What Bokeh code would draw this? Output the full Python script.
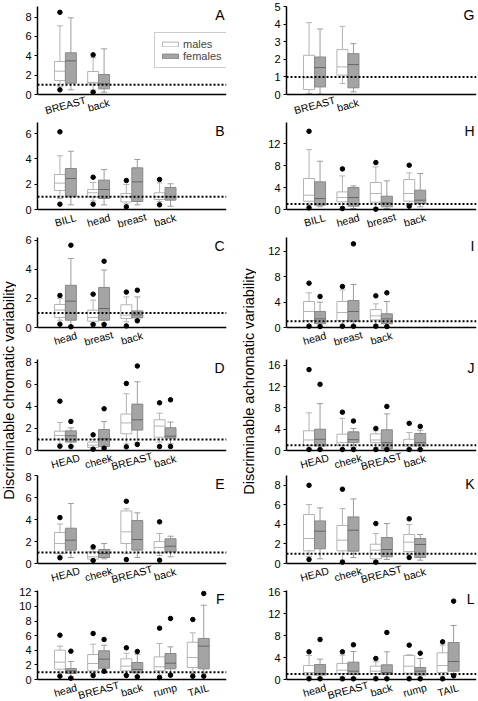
import math
from bokeh.plotting import figure
from bokeh.models import (Range1d, FixedTicker, ColumnDataSource, Span, Label,
                          Legend, LegendItem)
from bokeh.core.properties import value
from bokeh.layouts import row, column
from bokeh.embed import file_html
from bokeh.resources import INLINE

nan = float("nan")

# ---- data: each entry = [whisker_low, q1, median, q3, whisker_high, outlier_low, outlier_high]
A_cats = ["BREAST", "back"]
A_m = [[0.8, 1.45, 2.41, 3.41, 7.1, 0.48, 8.5], [0.45, 1.1, 1.25, 2.38, 3.8, 0.24, 4.1]]
A_f = [[0.48, 1.17, 3.48, 4.31, 7.93, nan, nan], [0.24, 0.59, 1.1, 2.07, 4.72, nan, nan]]
A_ticks = [0, 2, 4, 6, 8]

B_cats = ["BILL", "head", "breast", "back"]
B_m = [[0.87, 1.5, 2.08, 2.76, 4.24, 0.42, 6.13], [0.68, 1.0, 1.32, 1.58, 2.13, 0.42, 2.55],
       [0.45, 0.6, 1.0, 1.26, 1.97, 0.21, 2.29], [0.63, 0.79, 1.0, 1.32, 2.1, 0.37, 2.37]]
B_f = [[0.37, 1.0, 2.45, 3.24, 4.6, nan, nan], [0.37, 0.87, 1.58, 2.32, 3.16, nan, nan],
       [0.37, 0.63, 2.18, 3.29, 3.95, nan, nan], [0.26, 0.74, 1.0, 1.74, 2.03, nan, nan]]
B_ticks = [0, 2, 4, 6]

C_cats = ["head", "breast", "back"]
C_m = [[0.5, 0.69, 1.2, 1.58, 2.0, 0.23, 2.2], [0.3, 0.43, 0.69, 1.19, 1.88, 0.2, 2.29],
       [0.39, 0.62, 0.85, 1.56, 2.1, 0.11, 2.43]]
C_f = [[0.1, 0.5, 1.81, 2.9, 4.74, 0.05, 5.65], [0.27, 0.5, 1.3, 2.75, 3.95, 0.2, 4.55],
       [0.55, 0.66, 0.87, 1.14, 2.1, 0.46, 2.56]]
C_ticks = [0, 2, 4, 6]

D_cats = ["HEAD", "cheek", "BREAST", "back"]
D_m = [[0.6, 1.03, 1.36, 1.75, 2.54, 0.39, 4.47], [0.15, 0.27, 0.48, 0.76, 1.0, 0.12, 1.42],
       [0.6, 1.51, 2.5, 3.3, 5.14, 0.33, 6.07], [0.76, 1.21, 2.21, 2.78, 3.38, 0.36, 4.32]]
D_f = [[0.45, 0.76, 1.33, 1.78, 2.05, 0.36, 2.63], [0.25, 0.36, 1.06, 1.9, 2.63, 0.21, 3.78],
       [0.7, 1.85, 2.78, 4.2, 6.22, 0.55, 7.65], [0.6, 1.12, 1.3, 2.06, 2.57, 0.36, 4.59]]
D_ticks = [0, 2, 4, 6, 8]

E_cats = ["HEAD", "cheek", "BREAST", "back"]
E_m = [[0.7, 0.91, 1.82, 2.83, 3.6, 0.52, 4.19], [0.3, 0.4, 0.61, 1.06, 1.3, 0.27, 1.52],
       [0.9, 1.82, 2.89, 4.8, 5.0, 0.36, 5.68], [0.73, 0.97, 1.46, 2.0, 2.74, 0.3, 3.8]]
E_f = [[0.55, 1.22, 2.13, 3.22, 5.47, nan, nan], [0.43, 0.55, 0.91, 1.28, 1.82, nan, nan],
       [0.55, 1.22, 2.19, 3.92, 4.62, nan, nan], [0.61, 1.06, 1.58, 2.25, 2.49, nan, nan]]
E_ticks = [0, 2, 4, 6, 8]

F_cats = ["head", "BREAST", "back", "rump", "TAIL"]
F_m = [[0.9, 1.42, 2.37, 4.02, 4.57, 0.46, 6.07], [0.8, 1.19, 2.19, 3.42, 4.84, 0.55, 6.3],
       [0.68, 1.19, 1.83, 2.83, 3.6, 0.55, 4.34], [0.6, 1.19, 1.74, 3.1, 4.93, 0.27, 7.03],
       [0.82, 1.64, 3.01, 5.11, 6.39, 0.46, 8.22]]
F_f = [[0.37, 0.82, 1.19, 1.5, 2.47, 0.18, 3.88], [1.45, 1.55, 2.79, 3.93, 4.7, 1.12, 5.48],
       [0.46, 0.91, 1.37, 2.33, 3.47, 0.37, 3.84], [0.82, 1.46, 2.24, 3.56, 4.47, 0.59, 8.36],
       [0.9, 1.46, 4.57, 5.62, 10.18, 0.46, 11.78]]
F_ticks = [0, 2, 4, 6, 8, 10, 12]

G_cats = ["BREAST", "back"]
G_m = [[0.06, 0.28, 0.95, 2.23, 4.08, nan, nan], [0.62, 1.1, 1.57, 2.55, 3.87, nan, nan]]
G_f = [[0.02, 0.43, 1.53, 2.13, 3.72, nan, nan], [0.15, 0.38, 1.7, 2.32, 2.89, nan, nan]]
G_ticks = [0, 1, 2, 3, 4, 5]

H_cats = ["BILL", "head", "breast", "back"]
H_m = [[0.8, 1.52, 2.62, 5.66, 10.95, 0.3, 14.3], [0.5, 1.4, 2.19, 3.22, 6.14, 0.18, 7.42],
       [0.3, 1.34, 2.92, 4.93, 7.78, 0.06, 8.58], [0.9, 1.52, 2.92, 5.47, 6.69, 0.61, 8.09]]
H_f = [[0.5, 0.79, 2.0, 5.05, 8.82, nan, nan], [0.18, 0.6, 2.19, 4.01, 4.32, nan, nan],
       [0.18, 0.49, 1.22, 2.43, 5.23, nan, nan], [0.49, 1.1, 1.7, 3.53, 6.57, nan, nan]]
H_ticks = [0, 4, 8, 12, 16]

I_cats = ["head", "breast", "back"]
I_m = [[0.4, 1.1, 2.52, 4.09, 5.45, 0.2, 6.97], [0.4, 1.1, 2.36, 4.09, 5.92, 0.2, 6.45],
       [0.5, 1.2, 1.83, 2.83, 3.72, 0.2, 4.98]]
I_f = [[0.2, 0.58, 1.36, 2.52, 3.98, 0.15, 4.87], [0.3, 1.0, 2.52, 4.25, 6.76, 0.2, 13.15],
       [0.2, 0.58, 1.36, 2.15, 4.09, 0.15, 5.45]]
I_ticks = [0, 4, 8, 12]

J_cats = ["HEAD", "cheek", "BREAST", "back"]
J_m = [[0.3, 0.96, 1.98, 3.7, 7.07, 0.19, 15.2], [0.3, 0.96, 1.47, 3.06, 6.05, 0.19, 7.2],
       [0.6, 1.47, 1.98, 3.12, 3.7, 0.19, 4.14], [0.35, 0.83, 1.15, 2.1, 3.38, 0.19, 5.1]]
J_f = [[0.3, 0.83, 2.1, 4.0, 8.8, 0.19, 12.43], [0.6, 1.47, 2.04, 3.5, 4.14, 0.19, 5.54],
       [0.25, 0.32, 1.47, 3.89, 6.88, 0.19, 8.28], [0.35, 0.83, 1.47, 3.19, 3.82, 0.19, 4.53]]
J_ticks = [0, 4, 8, 12, 16]

K_cats = ["HEAD", "cheek", "BREAST", "back"]
K_m = [[0.7, 1.29, 2.55, 5.0, 6.02, 0.41, 7.99], [0.35, 1.29, 2.38, 3.88, 5.61, 0.14, 7.59],
       [0.3, 0.48, 1.36, 1.97, 3.06, 0.14, 4.08], [0.9, 1.22, 2.18, 2.96, 3.98, 0.61, 4.56]]
K_f = [[0.48, 1.5, 3.3, 4.35, 5.68, nan, nan], [0.61, 1.26, 3.4, 4.76, 6.6, nan, nan],
       [0.41, 0.68, 1.43, 2.65, 4.08, nan, nan], [0.34, 0.61, 1.94, 2.55, 2.96, nan, nan]]
K_ticks = [0, 2, 4, 6, 8]

L_cats = ["head", "BREAST", "back", "rump", "TAIL"]
L_m = [[0.5, 0.8, 1.28, 2.55, 4.38, 0.12, 5.05], [0.5, 1.1, 1.7, 2.92, 4.44, 0.12, 5.05],
       [0.5, 1.1, 1.52, 2.43, 3.22, 0.12, 3.83], [0.5, 1.16, 2.43, 4.38, 4.5, 0.12, 6.27],
       [0.6, 1.28, 2.55, 4.87, 6.27, 0.12, 6.87]]
L_f = [[0.4, 0.8, 1.1, 2.74, 3.71, 0.12, 7.3], [0.4, 0.91, 1.52, 3.16, 5.11, 0.12, 6.33],
       [0.4, 0.91, 1.28, 2.68, 5.05, 0.12, 8.58], [0.4, 0.8, 1.52, 2.19, 3.83, 0.12, 4.8],
       [0.8, 1.52, 3.28, 6.75, 9.85, 0.67, 14.3]]
L_ticks = [0, 4, 8, 12, 16]

y_max = {"A": 9.1, "B": 6.87, "C": 6.18, "D": 8.24, "E": 8.03, "F": 12.19,
         "G": 5.0, "H": 15.9, "I": 14.15, "J": 17.1, "K": 8.99, "L": 16.24}

threshold = 1.0
left_title = "Discriminable chromatic variability"
right_title = "Discriminable achromatic variability"

# ---- styling / layout (page is 478 x 701, no body margin in Bokeh's template)
FONT = "Liberation Sans"
X0, X1 = 0.16, 5.85
BW = 0.33
CAP = 0.18
BELOW = 22                          # frame pixels under zero for category names
ROW_BT = [6, 6, 6, 10, 3, 5]
ROW_FH = [88, 87, 90, 91, 88, 89]   # height of the 0..ymax part of each frame
M_LINE = "#b3b3b3"
F_FILL = "#a4a4a4"
F_LINE = "#888888"
F_MED = "#666666"
F_WHISK = "#9c9c9c"


def sex_source(stats, offset):
    xs = [i + 1 + offset for i in range(len(stats))]
    cols = list(zip(*stats))
    return ColumnDataSource(dict(
        x=xs,
        left=[x - BW / 2 for x in xs], right=[x + BW / 2 for x in xs],
        cl=[x - CAP / 2 for x in xs], cr=[x + CAP / 2 for x in xs],
        wlo=list(cols[0]), q1=list(cols[1]), med=list(cols[2]), q3=list(cols[3]),
        whi=list(cols[4]), olo=list(cols[5]), ohi=list(cols[6])))


def make_panel(letter, cats, males, females, ticks, col, r, legend=False):
    W = 224 if col == 0 else 222
    bl = 20 if col == 0 else 30
    br = 14 if col == 0 else 2
    bt, fh = ROW_BT[r], ROW_FH[r]
    H = bt + fh + BELOW
    ymax = y_max[letter]
    ymin = -BELOW * ymax / fh
    p = figure(width=W, height=H, x_range=Range1d(X0, X1), y_range=Range1d(ymin, ymax),
               output_backend="svg", toolbar_location=None, x_axis_location=None,
               min_border_left=bl, min_border_right=br,
               min_border_top=bt, min_border_bottom=0)
    p.outline_line_color = None
    p.xgrid.visible = False
    p.ygrid.visible = False

    ya = p.yaxis[0]
    ya.bounds = (0, ymax)
    ya.ticker = FixedTicker(ticks=ticks)
    ya.axis_line_width = 1.5
    ya.axis_line_color = "black"
    ya.major_tick_out = 3
    ya.major_tick_in = 0
    ya.major_tick_line_color = "black"
    ya.minor_tick_line_color = None
    ya.major_label_standoff = 3
    ya.major_label_text_font = FONT
    ya.major_label_text_font_size = "11px"
    ya.major_label_text_color = "black"

    # x-axis line at zero
    p.add_layout(Span(location=0, dimension="width", line_color="black", line_width=1.5))

    renderers = {}
    for name, stats, off, fill, line, med, wcol in [
            ("males", males, -BW / 2, "white", M_LINE, M_LINE, M_LINE),
            ("females", females, BW / 2, F_FILL, F_LINE, F_MED, F_WHISK)]:
        src = sex_source(stats, off)
        p.segment(x0="x", y0="wlo", x1="x", y1="whi", source=src, line_color=wcol, line_width=1)
        p.segment(x0="cl", y0="whi", x1="cr", y1="whi", source=src, line_color=wcol, line_width=1)
        p.segment(x0="cl", y0="wlo", x1="cr", y1="wlo", source=src, line_color=wcol, line_width=1)
        box = p.quad(left="left", right="right", bottom="q1", top="q3", source=src,
                     fill_color=fill, line_color=line, line_width=1)
        p.segment(x0="left", y0="med", x1="right", y1="med", source=src, line_color=med, line_width=1)
        p.scatter(x="x", y="ohi", source=src, size=4.5, color="black")
        p.scatter(x="x", y="olo", source=src, size=4.5, color="black")
        renderers[name] = box

    p.add_layout(Span(location=threshold, dimension="width", line_color="black",
                      line_width=2, line_dash="2 2"))

    dy = 10.5 * ymax / fh
    lab_src = ColumnDataSource(dict(x=[i + 1 for i in range(len(cats))],
                                    y=[-dy] * len(cats), text=cats))
    p.text(x="x", y="y", text="text", source=lab_src, angle=math.radians(15),
           text_align="center", text_baseline="middle", text_font=value(FONT),
           text_font_size="10.5px", text_color="black")

    p.add_layout(Label(x=X1, y=ymax, x_offset=-2, text=letter, text_align="right",
                       text_baseline="top", text_font=FONT, text_font_size="14px",
                       text_color="black"))

    if legend:
        lg = Legend(items=[LegendItem(label="males", renderers=[renderers["males"]]),
                           LegendItem(label="females", renderers=[renderers["females"]])],
                    location=(117, 26 + BELOW), margin=0, padding=5, spacing=0,
                    glyph_width=20, glyph_height=6, label_height=11, label_standoff=3,
                    label_text_font=FONT, label_text_font_size="11px",
                    border_line_color="#9a9a9a", border_line_width=1,
                    background_fill_color="white", background_fill_alpha=1)
        p.add_layout(lg)
    return p


def title_fig(text, cy):
    p = figure(width=16, height=701, x_range=Range1d(0, 1), y_range=Range1d(0, 701),
               x_axis_location=None, y_axis_location=None, output_backend="svg",
               toolbar_location=None, min_border=0)
    p.outline_line_color = None
    p.grid.visible = False
    p.add_layout(Label(x=0.5, y=701 - cy, text=text, angle=math.pi / 2,
                       text_align="center", text_baseline="middle",
                       text_font=FONT, text_font_size="14.5px", text_color="black"))
    return p


left_specs = [("A", A_cats, A_m, A_f, A_ticks), ("B", B_cats, B_m, B_f, B_ticks),
              ("C", C_cats, C_m, C_f, C_ticks), ("D", D_cats, D_m, D_f, D_ticks),
              ("E", E_cats, E_m, E_f, E_ticks), ("F", F_cats, F_m, F_f, F_ticks)]
right_specs = [("G", G_cats, G_m, G_f, G_ticks), ("H", H_cats, H_m, H_f, H_ticks),
               ("I", I_cats, I_m, I_f, I_ticks), ("J", J_cats, J_m, J_f, J_ticks),
               ("K", K_cats, K_m, K_f, K_ticks), ("L", L_cats, L_m, L_f, L_ticks)]

left_col = column(*[make_panel(s[0], s[1], s[2], s[3], s[4], 0, r, legend=(r == 0))
                    for r, s in enumerate(left_specs)], spacing=0)
right_col = column(*[make_panel(s[0], s[1], s[2], s[3], s[4], 1, r)
                     for r, s in enumerate(right_specs)], spacing=0)

layout = row(title_fig(left_title, 390), left_col, title_fig(right_title, 381), right_col,
             spacing=0)

open("out.html", "w").write(file_html(layout, INLINE))
